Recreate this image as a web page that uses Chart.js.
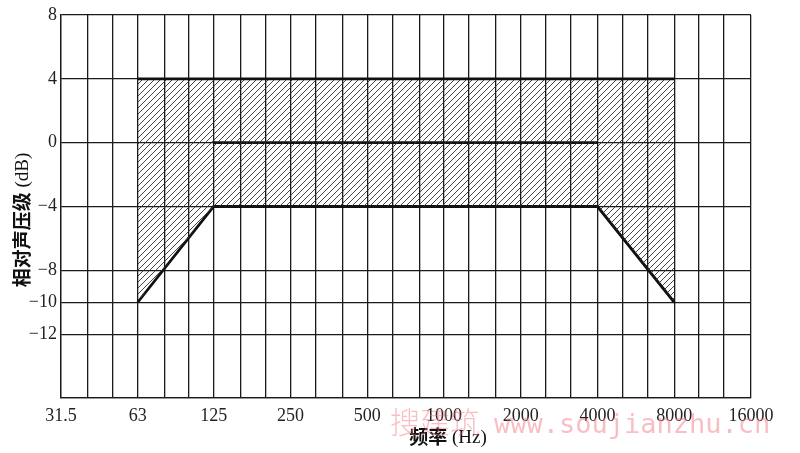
<!DOCTYPE html>
<html>
<head>
<meta charset="utf-8">
<script src="https://cdn.jsdelivr.net/npm/chart.js@4.4.1/dist/chart.umd.min.js"></script>
<style>
  body { margin: 0; background: #fff; }
</style>
</head>
<body>
<canvas id="myChart" width="800" height="453"></canvas>
<script>
// =====> Data <=====
// nominal third-octave band centres (vertical grid lines)
const thirdOctaves = [31.5, 40, 50, 63, 80, 100, 125, 160, 200, 250, 315, 400, 500, 630, 800,
                      1000, 1250, 1600, 2000, 2500, 3150, 4000, 5000, 6300, 8000, 10000, 12500, 16000];
const octaveLabels = ['31.5', '63', '125', '250', '500', '1000', '2000', '4000', '8000', '16000'];
const yTicks = [8, 4, 0, -4, -8, -10, -12, -16];

// tolerance band (dB)
const upperFreq = [63, 125, 4000, 8000];
const upperDb   = [4, 4, 4, 4];
const lowerFreq = [63, 125, 4000, 8000];
const lowerDb   = [-10, -4, -4, -10];
const refFreq   = [125, 4000];
const refDb     = [0, 0];

const pts = (xs, ys) => xs.map((x, i) => ({ x: x, y: ys[i] }));

// hatch pattern "/"
function makeHatch() {
    const c = document.createElement('canvas');
    c.width = 6; c.height = 6;
    const g = c.getContext('2d');
    g.strokeStyle = 'rgba(50,50,50,0.9)';
    g.lineWidth = 1;
    g.beginPath();
    g.moveTo(-1, 7); g.lineTo(7, -1);
    g.moveTo(-4, 4); g.lineTo(4, -4);
    g.moveTo(2, 10); g.lineTo(10, 2);
    g.stroke();
    return g.createPattern(c, 'repeat');
}

// CJK bold part + serif part, centred on (0,0)
function mixedTitle(c, cjk, latin) {
    const f1 = 'bold 19px "Noto Sans CJK SC"';
    const f2 = '19px "Liberation Serif"';
    c.font = f1; const w1 = c.measureText(cjk).width;
    c.font = f2; const w2 = c.measureText(latin).width;
    let x = -(w1 + w2) / 2;
    c.textAlign = 'left';
    c.textBaseline = 'middle';
    c.font = f1; c.fillText(cjk, x, 0);
    c.font = f2; c.fillText(latin, x + w1, 1);
}

const ctx = document.getElementById('myChart').getContext('2d');

// titles + watermark
const extras = {
    id: 'extras',
    afterDraw(chart) {
        const c = chart.ctx;
        c.save();
        c.fillStyle = '#111';
        c.translate(22, 220);
        c.rotate(-Math.PI / 2);
        mixedTitle(c, '相对声压级', ' (dB)');
        c.restore();

        c.save();
        c.fillStyle = '#111';
        c.translate(448, 437);
        mixedTitle(c, '频率', ' (Hz)');
        c.restore();

        c.save();
        c.fillStyle = 'rgba(240,110,125,0.45)';
        c.textBaseline = 'middle';
        c.font = '300 30px "Noto Sans CJK SC"';
        c.fillText('搜建筑', 390, 422);
        c.font = '27px "DejaVu Sans Mono"';
        c.fillText('www.soujianzhu.cn', 494, 426);
        c.restore();
    }
};

const chart = new Chart(ctx, {
    type: 'line',
    data: {
        datasets: [
            {
                data: pts(upperFreq, upperDb),
                borderColor: '#111',
                borderWidth: 2.8,
                pointRadius: 0,
                fill: '+1',
                backgroundColor: makeHatch()
            },
            {
                data: pts(lowerFreq, lowerDb),
                borderColor: '#111',
                borderWidth: 2.8,
                pointRadius: 0,
                fill: false
            },
            {
                data: pts(refFreq, refDb),
                borderColor: '#111',
                borderWidth: 2.8,
                pointRadius: 0,
                fill: false
            }
        ]
    },
    options: {
        responsive: false,
        animation: false,
        layout: { padding: { left: 0, top: 15, right: 49, bottom: 0 } },
        plugins: {
            legend: { display: false },
            tooltip: { enabled: false }
        },
        scales: {
            x: {
                type: 'logarithmic',
                min: 31.5,
                max: 16000,
                afterBuildTicks: (scale) => {
                    scale.ticks = thirdOctaves.map(v => ({ value: v }));
                },
                afterFit: (scale) => { scale.height = 55; },
                grid: { color: '#1a1a1a', lineWidth: 1.3, drawTicks: false },
                border: { color: '#1a1a1a', width: 1.3 },
                ticks: {
                    autoSkip: false,
                    maxRotation: 0,
                    padding: 7,
                    color: '#222',
                    font: { family: '"Liberation Serif"', size: 18 },
                    callback: (value, index) => (index % 3 === 0 ? octaveLabels[index / 3] : '')
                }
            },
            y: {
                min: -16,
                max: 8,
                afterBuildTicks: (scale) => {
                    scale.ticks = yTicks.map(v => ({ value: v }));
                },
                afterFit: (scale) => { scale.width = 61; },
                grid: { color: '#1a1a1a', lineWidth: 1.3, drawTicks: false },
                border: { color: '#1a1a1a', width: 1.3 },
                ticks: {
                    padding: 4,
                    color: '#222',
                    font: { family: '"Liberation Serif"', size: 18 },
                    callback: (value) => (value === -16 ? '' : String(value).replace('-', '\u2212'))
                }
            }
        }
    },
    plugins: [extras]
});
</script>
</body>
</html>
